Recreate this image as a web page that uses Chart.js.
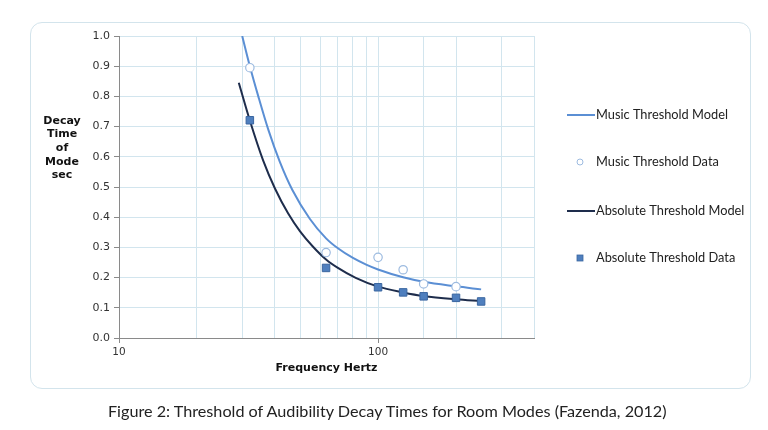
<!DOCTYPE html>
<html>
<head>
<meta charset="utf-8">
<script src="https://cdn.jsdelivr.net/npm/chart.js@4.4.1/dist/chart.umd.min.js"></script>
<style>
  html, body { margin: 0; padding: 0; background: #ffffff; }
  #wrap { position: relative; width: 768px; height: 430px; overflow: hidden; }
  #frame { position: absolute; left: 30px; top: 22px; width: 721px; height: 367px;
           border: 1px solid #d3e4ec; border-radius: 12px; box-sizing: border-box; }
  #cv { position: absolute; left: 0; top: 0; }
  #caption { position: absolute; left: 0; width: 768px; top: 401px; text-align: left;
             padding-left: 108px; box-sizing: border-box; white-space: nowrap;
             font-family: Lato, "Open Sans", sans-serif; font-size: 16.2px; color: #222; }
</style>
</head>
<body>
<div id="wrap">
  <div id="frame"></div>
  <canvas id="cv" width="768" height="430"></canvas>
  <div id="caption">Figure 2: Threshold of Audibility Decay Times for Room Modes (Fazenda, 2012)</div>
</div>
<script>
// ---- data ----
const seriesNames = ["Music Threshold Model", "Music Threshold Data", "Absolute Threshold Model", "Absolute Threshold Data"];

const musicModelFreq  = [29.9, 32, 34.5, 37.7, 41.7, 46.7, 54.5, 63, 70, 80, 90, 100, 125, 150, 200, 250];
const musicModelTime  = [1.0, 0.9, 0.8, 0.69, 0.585, 0.49, 0.395, 0.33, 0.297, 0.265, 0.243, 0.227, 0.201, 0.186, 0.171, 0.161];

const musicDataFreq   = [32, 63, 100, 125, 150, 200];
const musicDataTime   = [0.895, 0.283, 0.267, 0.226, 0.179, 0.170];

const absModelFreq    = [29, 32, 36, 40, 45, 50, 56, 63, 70, 82, 100, 125, 150, 200, 250];
const absModelTime    = [0.845, 0.72, 0.588, 0.495, 0.412, 0.353, 0.303, 0.26, 0.232, 0.199, 0.17, 0.151, 0.139, 0.128, 0.122];

const absDataFreq     = [32, 63, 100, 125, 150, 200, 250];
const absDataTime     = [0.721, 0.232, 0.168, 0.151, 0.138, 0.133, 0.121];

const xLabeledTicks   = [10, 100];
const yTitleLines     = ["Decay", "Time", "of", "Mode", "sec"];
const xTitle          = "Frequency Hertz";

const pts = (xs, ys) => xs.map((x, i) => ({ x: x, y: ys[i] }));

const C_MUSIC = '#5b8fd4';
const C_ABS = '#1e2d4c';
const C_SQ = '#4f7fbe';
const C_SQB = '#3a66a0';
const C_CIRC = '#9dbbe0';
const GRID = '#d2e5ee';
const AXIS = '#8a8a8a';

// custom plugin: y title (horizontal stacked lines) and right-side legend
const extras = {
  id: 'extras',
  afterDraw(chart) {
    const ctx = chart.ctx;
    ctx.save();
    ctx.fillStyle = '#111';
    ctx.font = 'bold 11px "DejaVu Sans", Verdana, sans-serif';
    ctx.textAlign = 'center';
    ctx.textBaseline = 'middle';
    const yStarts = 121, step = 13.6;
    yTitleLines.forEach((t, i) => ctx.fillText(t, 62, yStarts + i * step));

    // legend
    const ds = chart.data.datasets;
    const ys = [115, 162, 211, 258];
    ctx.font = '12.8px Lato, "Open Sans", sans-serif';
    ctx.textAlign = 'left';
    ds.forEach((d, i) => {
      const y = ys[i];
      if (d.showLine) {
        ctx.strokeStyle = d.borderColor;
        ctx.lineWidth = 2;
        ctx.beginPath();
        ctx.moveTo(567, y);
        ctx.lineTo(595, y);
        ctx.stroke();
      } else if (d.pointStyle === 'circle') {
        ctx.beginPath();
        ctx.arc(580, y, 3, 0, Math.PI * 2);
        ctx.fillStyle = '#fff';
        ctx.fill();
        ctx.strokeStyle = C_CIRC;
        ctx.lineWidth = 1;
        ctx.stroke();
      } else {
        ctx.fillStyle = C_SQ;
        ctx.fillRect(577, y - 3, 6, 6);
        ctx.strokeStyle = C_SQB;
        ctx.lineWidth = 0.8;
        ctx.strokeRect(577, y - 3, 6, 6);
      }
      ctx.fillStyle = '#222';
      ctx.fillText(d.label, 596, y);
    });
    ctx.restore();
  }
};

new Chart(document.getElementById('cv'), {
  type: 'scatter',
  data: {
    datasets: [
      { label: seriesNames[0], data: pts(musicModelFreq, musicModelTime), showLine: true,
        borderColor: C_MUSIC, borderWidth: 2, pointRadius: 0, cubicInterpolationMode: 'monotone', order: 3 },
      { label: seriesNames[1], data: pts(musicDataFreq, musicDataTime), showLine: false,
        pointStyle: 'circle', pointRadius: 4.2, backgroundColor: '#ffffff', borderColor: C_CIRC, borderWidth: 1.2, order: 2 },
      { label: seriesNames[2], data: pts(absModelFreq, absModelTime), showLine: true,
        borderColor: C_ABS, borderWidth: 2, pointRadius: 0, cubicInterpolationMode: 'monotone', order: 4 },
      { label: seriesNames[3], data: pts(absDataFreq, absDataTime), showLine: false,
        pointStyle: 'rect', pointRadius: 5.3, backgroundColor: C_SQ, borderColor: C_SQB, borderWidth: 1, order: 1 }
    ]
  },
  options: {
    responsive: false,
    animation: false,
    devicePixelRatio: 1,
    layout: { padding: { left: 0, top: 36, right: 234, bottom: 52 } },
    plugins: { legend: { display: false }, tooltip: { enabled: false } },
    scales: {
      x: {
        type: 'logarithmic', min: 10, max: 400,
        afterFit(s) { s.height = 40; },
        grid: { color: GRID, lineWidth: 1, drawTicks: true, tickLength: 5, tickColor: (c) => (c.tick && xLabeledTicks.includes(c.tick.value)) ? AXIS : 'rgba(0,0,0,0)' },
        border: { color: AXIS, width: 1 },
        ticks: {
          autoSkip: false, maxRotation: 0, padding: 3,
          color: '#333', font: { family: '"DejaVu Sans", Verdana, sans-serif', size: 10.5 },
          callback: (v) => xLabeledTicks.includes(v) ? String(v) : ''
        },
        title: { display: true, text: xTitle, color: '#111', padding: { top: 4, bottom: 3 },
                 font: { family: '"DejaVu Sans", Verdana, sans-serif', size: 11, weight: 'bold' } }
      },
      y: {
        min: 0, max: 1,
        afterFit(s) { s.width = 119; },
        grid: { color: GRID, lineWidth: 1, tickLength: 5, tickColor: AXIS },
        border: { color: AXIS, width: 1 },
        ticks: {
          stepSize: 0.1, padding: 4, color: '#333',
          font: { family: '"DejaVu Sans", Verdana, sans-serif', size: 11 },
          callback: (v) => v.toFixed(1)
        }
      }
    }
  },
  plugins: [extras]
});
</script>
</body>
</html>
